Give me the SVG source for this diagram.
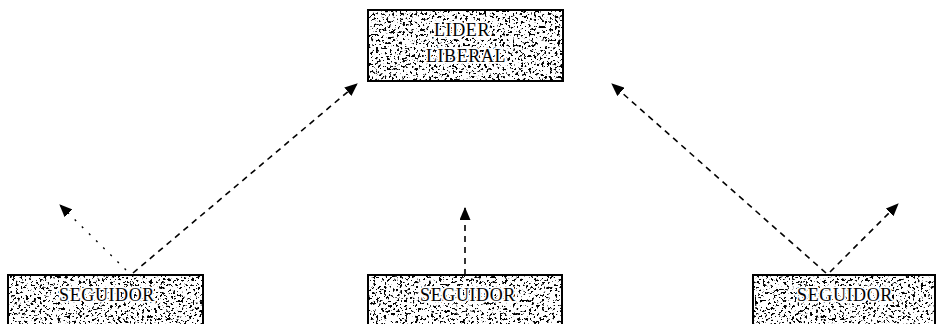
<svg xmlns="http://www.w3.org/2000/svg" width="938" height="324" viewBox="0 0 938 324">
  <style>
    .frame { fill: none; stroke: #000; stroke-width: 2; }
    .tex { fill: #000; filter: url(#grain); }
    .lbl { font-family: "Liberation Serif", "Times New Roman", serif; font-size: 18px; fill: #000; text-anchor: middle; stroke: #fff; stroke-width: 3.5; stroke-linejoin: round; paint-order: stroke; letter-spacing: 0.6px; }
    .link { fill: none; stroke: #000; stroke-width: 1.6; stroke-dasharray: 6 5; marker-end: url(#head); }
    .faint { stroke-dasharray: 2 8; stroke-width: 1.4; }
  </style>
  <defs>
    <!-- blotchy print texture for the box fills -->
    <filter id="grain" x="0" y="0" width="100%" height="100%">
      <feTurbulence type="fractalNoise" baseFrequency="0.38" numOctaves="3" seed="11" result="n"/>
      <feColorMatrix in="n" type="matrix" values="0 0 0 0 0  0 0 0 0 0  0 0 0 0 0  16 0 0 0 -9.3" result="speck"/>
      <feComposite in="speck" in2="SourceGraphic" operator="in"/>
    </filter>
    <marker id="head" viewBox="0 0 13 11" refX="12" refY="5.5" markerWidth="13" markerHeight="11" markerUnits="userSpaceOnUse" orient="auto">
      <path d="M0,0 L13,5.5 L0,11 Z" fill="#000"/>
    </marker>
  </defs>

  <g id="connectors">
    <line class="link" x1="133" y1="273" x2="357" y2="84"/>
    <line class="link faint" x1="126" y1="270" x2="60" y2="205"/>
    <line class="link" x1="465" y1="275" x2="465" y2="208"/>
    <line class="link" x1="826" y1="273" x2="612" y2="84"/>
    <line class="link" x1="830" y1="272" x2="898" y2="204"/>
  </g>

  <g id="lider-liberal">
    <rect class="tex" x="369" y="11" width="193" height="69"/>
    <rect class="frame" x="368" y="10" width="195" height="71"/>
    <text class="lbl" x="462" y="36">LIDER</text>
    <text class="lbl" x="466" y="62">LIBERAL</text>
  </g>

  <g id="seguidor-left">
    <rect class="tex" x="9" y="276" width="193" height="50"/>
    <rect class="frame" x="8" y="275" width="195" height="60"/>
    <text class="lbl" x="107" y="301">SEGUIDOR</text>
  </g>

  <g id="seguidor-center">
    <rect class="tex" x="369" y="276" width="192" height="50"/>
    <rect class="frame" x="368" y="275" width="194" height="60"/>
    <text class="lbl" x="468" y="301">SEGUIDOR</text>
  </g>

  <g id="seguidor-right">
    <rect class="tex" x="754" y="276" width="180" height="50"/>
    <rect class="frame" x="753" y="275" width="182" height="60"/>
    <text class="lbl" x="845" y="301">SEGUIDOR</text>
  </g>
</svg>
